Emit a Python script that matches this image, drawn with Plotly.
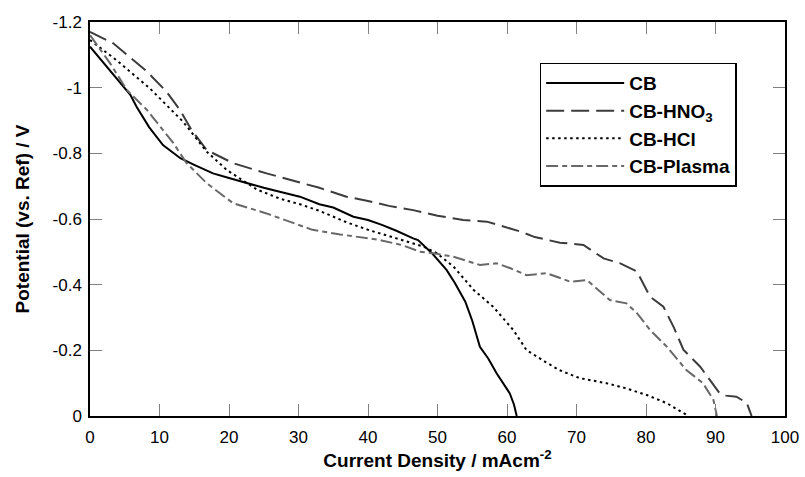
import plotly.graph_objects as go

# ---- data ----
cb_x = [0, 3, 5.8, 6.7, 8.5, 10.5, 13, 15, 17.7, 20, 22.5, 25, 27.3, 30.2, 33, 35, 37.9, 40, 42, 44,
        46.5, 47.2, 49.2, 51.3, 52.5, 54, 55, 56.1, 57.3, 58.5, 60.4, 61, 61.4]
cb_y = [-1.125, -1.05, -0.978, -0.942, -0.88, -0.825, -0.785, -0.765, -0.739, -0.725,
        -0.709, -0.695, -0.683, -0.668, -0.645, -0.635, -0.607, -0.597, -0.582, -0.565,
        -0.541, -0.536, -0.496, -0.445, -0.405, -0.348, -0.29, -0.211, -0.175, -0.13,
        -0.069, -0.035, 0]

hno3_x = [0, 3.35, 8.2, 11, 12.95, 14.6, 16.8, 20.6, 25.4, 29.7, 33, 36.9, 40, 43, 46.5, 50, 53.7,
          57.1, 60, 61.9, 64, 67.6, 71, 72.5, 73.9, 76.3, 78.7, 80.6, 82.5, 84, 85.4, 87.8, 90.6,
          91.5, 93, 94.5, 95, 95.2]
hno3_y = [-1.17, -1.135, -1.049, -0.988, -0.932, -0.871, -0.81, -0.77, -0.739, -0.714,
          -0.695, -0.668, -0.655, -0.64, -0.627, -0.61, -0.597, -0.592, -0.575, -0.562,
          -0.545, -0.528, -0.521, -0.50, -0.48, -0.465, -0.44, -0.363, -0.333, -0.27,
          -0.201, -0.15, -0.069, -0.062, -0.059, -0.04, -0.013, 0]

hcl_x = [0, 3.8, 8.6, 13.4, 16.8, 19.7, 24, 27.3, 30.2, 33, 36.9, 40.3, 44.1, 48, 49.9, 52.3, 55.2,
         58, 60.9, 62.8, 65.5, 67.5, 70.5, 74.3, 77, 80.1, 83, 86.1]
hcl_y = [-1.145, -1.084, -0.998, -0.896, -0.805, -0.749, -0.69, -0.662, -0.645, -0.625,
         -0.59, -0.565, -0.541, -0.516, -0.496, -0.455, -0.384, -0.333, -0.262, -0.201,
         -0.165, -0.14, -0.115, -0.10, -0.085, -0.064, -0.039, 0]

plasma_x = [0, 2.9, 5.3, 8.2, 12, 13.9, 16.8, 20.6, 25.4, 30.2, 32, 36, 41.7, 45, 47.5, 49.4, 52.3,
            56.1, 58.5, 60.5, 62.8, 65.7, 69.1, 71.5, 73, 74.8, 77.2, 78.7, 80.6, 83, 85.8, 88.2,
            89.7, 90.2]
plasma_y = [-1.16, -1.074, -0.993, -0.932, -0.831, -0.77, -0.709, -0.648, -0.617, -0.582,
            -0.567, -0.553, -0.536, -0.52, -0.5, -0.496, -0.485, -0.46, -0.465, -0.45,
            -0.429, -0.435, -0.409, -0.414, -0.385, -0.353, -0.343, -0.313, -0.262, -0.211,
            -0.14, -0.1, -0.049, 0]

x_ticks = [0, 10, 20, 30, 40, 50, 60, 70, 80, 90, 100]
y_ticks = [0, -0.2, -0.4, -0.6, -0.8, -1.0, -1.2]
y_tick_text = ["0", "-0.2", "-0.4", "-0.6", "-0.8", "-1", "-1.2"]

FONT = "Liberation Sans, Arial, sans-serif"

fig = go.Figure()
fig.add_trace(go.Scatter(x=cb_x, y=cb_y, mode="lines", name="CB",
                         line=dict(color="black", width=2, dash="solid")))
fig.add_trace(go.Scatter(x=hno3_x, y=hno3_y, mode="lines", name="CB-HNO<sub>3</sub>",
                         line=dict(color="#3c3c3c", width=2, dash="18px,7px")))
fig.add_trace(go.Scatter(x=hcl_x, y=hcl_y, mode="lines", name="CB-HCl",
                         line=dict(color="black", width=2, dash="2.5px,3.5px")))
fig.add_trace(go.Scatter(x=plasma_x, y=plasma_y, mode="lines", name="CB-Plasma",
                         line=dict(color="#686868", width=2, dash="12px,4px,5px,4px")))

axis_common = dict(showgrid=False, zeroline=False, showline=True, linecolor="black",
                   linewidth=1.5, mirror="ticks", ticks="inside", ticklen=12,
                   tickcolor="#808080", tickwidth=1.2, automargin=False,
                   tickfont=dict(family=FONT, size=17, color="black"))

fig.update_xaxes(range=[0, 100], tickvals=x_ticks, ticklabelstandoff=5, **axis_common,
                 title=dict(text="<b>Current Density / mAcm<sup>-2</sup></b>",
                            font=dict(family=FONT, size=19, color="black"), standoff=4))
fig.update_yaxes(range=[0, -1.2], tickvals=y_ticks, ticktext=y_tick_text, ticklabelstandoff=3,
                 **axis_common,
                 title=dict(text="<b>Potential (vs. Ref) / V</b>",
                            font=dict(family=FONT, size=19, color="black"), standoff=18))

fig.update_layout(
    width=805, height=477,
    margin=dict(l=90, r=20, t=22, b=61),
    plot_bgcolor="white", paper_bgcolor="white",
    font=dict(family=FONT, color="black"),
    legend=dict(x=0.647, y=0.897, xanchor="left", yanchor="top",
                bordercolor="black", borderwidth=1.5, bgcolor="white",
                font=dict(family=FONT, size=19, color="black", weight="bold"),
                itemwidth=78, tracegroupgap=0),
)

fig.write_html("out.html")
